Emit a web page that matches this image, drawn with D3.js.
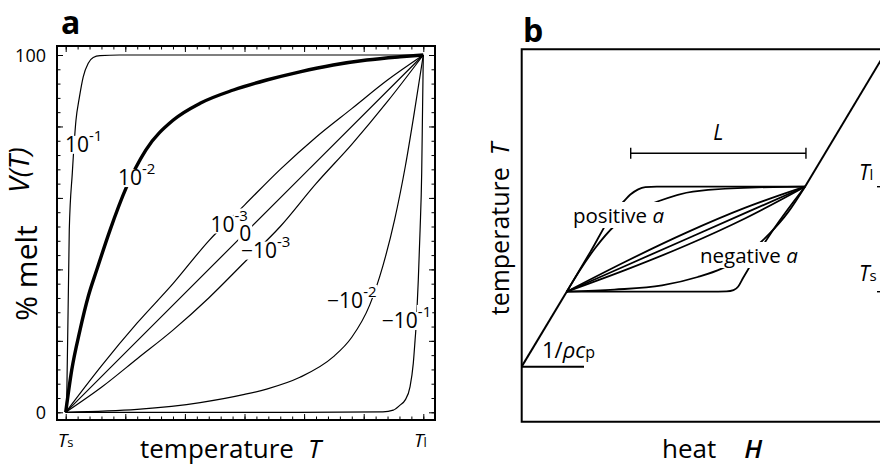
<!DOCTYPE html>
<html><head><meta charset="utf-8">
<script src="https://cdn.jsdelivr.net/npm/d3@7"></script>
<style>
body{margin:0;background:#fff}
svg{display:block}
text{font-family:"Open Sans","Noto Sans",sans-serif;fill:#000}
</style>
</head><body>
<svg id="chart" width="880" height="465"></svg>
<script>
// ---------- Panel a data: melt fraction V(T) (t = scaled temperature 0..1, v = % melt) ----------
const curveNames = ["10^-1","10^-2","10^-3","0","-10^-3","-10^-2","-10^-1"];
const meltPos1 = [[0,0],[0.003,4.4],[0.010,51],[0.0185,67],[0.0288,81.8],[0.038,88],[0.049,93.9],[0.063,97.7],[0.077,99.3],[0.096,99.8],[0.15,100],[1,100]];
const meltPos2 = [[0,0],[0.0168,11.8],[0.040,23],[0.063,32.4],[0.0867,39.8],[0.124,51],[0.169,62.8],[0.224,73.4],[0.301,81.8],[0.376,86.5],[0.469,90.2],[0.562,93],[0.655,95.3],[0.748,97.2],[0.842,98.6],[0.935,99.5],[1,100]];
const meltPos3 = [[0,0],[0.1,13],[0.2,25],[0.3,36],[0.4,48],[0.5,58],[0.6,68],[0.7,77],[0.8,85],[0.9,93],[1,100]];
const meltZero = [[0,0],[0.5,50],[1,100]];
const meltNeg3 = [[0,0],[0.1,7],[0.2,15],[0.3,23],[0.4,32],[0.5,42],[0.6,52],[0.7,64],[0.8,75],[0.9,87],[1,100]];
const meltNeg2 = [[0,0],[0.2,0.8],[0.376,2.7],[0.5,5],[0.562,6.5],[0.655,9.8],[0.748,15.5],[0.8,21],[0.85,30],[0.887,41],[0.92,54],[0.95,69],[0.975,84],[1,100]];
const meltNeg1 = [[0,0],[0.65,0],[0.887,0.1],[0.916,0.6],[0.935,2],[0.949,3.4],[0.963,7.2],[0.972,13.7],[0.977,20.2],[0.981,25.8],[0.986,37],[0.991,51],[0.9955,67],[0.998,85.5],[1,100]];
const meltCurves = [meltPos1, meltPos2, meltPos3, meltZero, meltNeg3, meltNeg2, meltNeg1];
const yTickLabels = ["0","100"];
const xTickLabels = ["Ts","Tl"];

// ---------- Panel b data: heat H (0 at solidus, 1 at liquidus end) vs temperature T (0 = Ts, 1 = Tl) ----------
const sensibleBelow = [[-0.189,-0.714],[0,0]];
const sensibleAbove = [[1,1],[1.37,2.4]];
const slopeFoot = [[-0.189,-0.714],[0.0726,-0.714]];
const latentBar = [0.2686, 1.004];
const latentBarT = 1.318;
const fan1 = [[0,0],[0.1,0.382],[0.198,0.757],[0.235,0.85],[0.27,0.93],[0.3,0.975],[0.33,0.995],[0.378,1],[1,1]];
const fan2 = [[0,0],[0.056,0.207],[0.119,0.414],[0.203,0.633],[0.287,0.776],[0.362,0.843],[0.53,0.954],[0.866,0.997],[1,1]];
const fan3 = [[0,0],[0.25,0.29],[0.5,0.56],[0.75,0.8],[1,1]];
const fan4 = [[0,0],[0.5,0.5],[1,1]];
const fan5 = [[0,0],[0.25,0.21],[0.5,0.44],[0.75,0.7],[1,1]];
const fan6 = [[0,0],[0.2,0.02],[0.4,0.06],[0.55,0.14],[0.65,0.22],[0.75,0.35],[0.85,0.55],[0.93,0.76],[1,1]];
const fan7 = [[0,0],[0.6,0],[0.671,0.003],[0.7,0.015],[0.72,0.05],[0.74,0.13],[0.811,0.397],[0.866,0.588],[1,1]];
const fanCurves = [fan1, fan2, fan3, fan4, fan5, fan6, fan7];

const svg = d3.select("#chart");

// ================= Panel a =================
const xA = d3.scaleLinear().domain([0,1]).range([65.7,423.3]);
const yA = d3.scaleLinear().domain([0,100]).range([412.3,55]);
const fA = {x0:57, x1:435, y0:46, y1:420};
const gA = svg.append("g");

const lineA = d3.line().x(d=>xA(d[0])).y(d=>yA(d[1])).curve(d3.curveMonotoneX);
gA.selectAll("path.melt").data(meltCurves).join("path")
  .attr("class","melt").attr("d",lineA).attr("fill","none").attr("stroke","#000")
  .attr("stroke-width",(d,i)=>i===1?3.4:1.2).attr("stroke-linejoin","round");

// ticks (inward on all sides)
const minorX = d3.range(0,31).map(i=>i/30), majorX = d3.range(0,7).map(i=>i/6);
const minorY = d3.range(0,26).map(i=>i*4), majorY = d3.range(0,6).map(i=>i*20);
function addAxis(gen, scale, vals, size, tr){
  const g = gA.append("g").attr("transform",tr)
    .call(gen(scale).tickValues(vals).tickSize(size).tickFormat(""));
  g.select(".domain").remove();
  g.selectAll(".tick line").attr("stroke","#000").attr("stroke-width",1);
}
addAxis(d3.axisBottom, xA, minorX, -3.5, `translate(0,${fA.y1})`);
addAxis(d3.axisBottom, xA, majorX, -6, `translate(0,${fA.y1})`);
addAxis(d3.axisTop, xA, minorX, -3.5, `translate(0,${fA.y0})`);
addAxis(d3.axisTop, xA, majorX, -6, `translate(0,${fA.y0})`);
addAxis(d3.axisLeft, yA, minorY, -3.5, `translate(${fA.x0},0)`);
addAxis(d3.axisLeft, yA, majorY, -6, `translate(${fA.x0},0)`);
addAxis(d3.axisRight, yA, minorY, -3.5, `translate(${fA.x1},0)`);
addAxis(d3.axisRight, yA, majorY, -6, `translate(${fA.x1},0)`);

gA.append("rect").attr("x",fA.x0).attr("y",fA.y0).attr("width",fA.x1-fA.x0).attr("height",fA.y1-fA.y0)
  .attr("fill","none").attr("stroke","#000").attr("stroke-width",2);

// y tick labels
gA.selectAll("text.ytl").data([0,100]).join("text").attr("class","ytl")
  .attr("x",46).attr("y",d=>yA(d)+6.5).attr("text-anchor","end").attr("font-size",18)
  .text((d,i)=>yTickLabels[i]);
// x tick labels Ts, Tl
[[0,0],[1,1]].forEach(([v,i])=>{
  const t = gA.append("text").attr("x",xA(v)+(i?-3:0)).attr("y",447).attr("text-anchor","middle");
  t.append("tspan").attr("font-style","italic").attr("font-size",19).text("T");
  t.append("tspan").attr("font-size",13).text(xTickLabels[i].slice(1));
});

// curve labels (white background breaking the lines)
const labelPos = [[-0.002,72.9],[0.146,63.6],[0.405,50.6],[0.485,48.0],[0.49,43.3],[0.731,29.2],[0.884,23.6]];
const bgLayer = gA.append("g"), txtLayer = gA.append("g");
curveNames.forEach((name,i)=>{
  const neg = name.startsWith("-");
  const isZero = name==="0";
  const x0 = xA(labelPos[i][0]), y0 = yA(labelPos[i][1]);
  const main = isZero ? "0" : (neg ? "\u221210" : "10");
  const sup = isZero ? "" : name.split("^")[1];
  const tm = txtLayer.append("text").attr("x",x0).attr("y",y0).attr("font-size",21).text(main);
  const w = tm.node().getComputedTextLength();
  bgLayer.append("rect").attr("x",x0-1).attr("y",y0-16).attr("width",w+2).attr("height",18).attr("fill","#fff");
  if(sup){
    const ts = txtLayer.append("text").attr("x",x0+w).attr("y",y0-11).attr("font-size",15).text(sup);
    const ws = ts.node().getComputedTextLength();
    bgLayer.append("rect").attr("x",x0+w-1).attr("y",y0-23).attr("width",ws+2).attr("height",13).attr("fill","#fff");
  }
});

// axis titles
gA.append("text").attr("transform","translate(37,273) rotate(-90)").attr("text-anchor","middle")
  .attr("font-size",30).text("% melt");
gA.append("text").attr("transform","translate(29,170) rotate(-90)").attr("text-anchor","middle")
  .attr("font-size",28).attr("font-style","italic").text("V(T)");
const xt = gA.append("text").attr("x",140).attr("y",458).attr("font-size",26);
xt.append("tspan").text("temperature");
xt.append("tspan").attr("dx",14).attr("font-style","italic").text("T");
gA.append("text").attr("x",61).attr("y",34).attr("font-size",32).attr("font-weight",700).text("a");

// ================= Panel b =================
const xB = d3.scaleLinear().domain([0,1]).range([566.7,805]);
const yB = d3.scaleLinear().domain([0,1]).range([291.7,186.7]);
const fB = {x0:521.7, y0:49.3, y1:421.7};
const gB = svg.append("g");
gB.append("defs").append("clipPath").attr("id","clipB").append("rect")
  .attr("x",fB.x0).attr("y",fB.y0).attr("width",880-fB.x0).attr("height",fB.y1-fB.y0);
const plotB = gB.append("g").attr("clip-path","url(#clipB)");
const lineB = d3.line().x(d=>xB(d[0])).y(d=>yB(d[1]));
const curveB = d3.line().x(d=>xB(d[0])).y(d=>yB(d[1])).curve(d3.curveMonotoneX);

plotB.selectAll("path.fan").data(fanCurves).join("path").attr("class","fan")
  .attr("d",curveB).attr("fill","none").attr("stroke","#000").attr("stroke-width",1.8);
[sensibleBelow, sensibleAbove, slopeFoot].forEach(d=>{
  plotB.append("path").attr("d",lineB(d)).attr("fill","none").attr("stroke","#000").attr("stroke-width",2);
});
// latent heat bar
gB.append("line").attr("x1",xB(latentBar[0])).attr("x2",xB(latentBar[1]))
  .attr("y1",yB(latentBarT)).attr("y2",yB(latentBarT)).attr("stroke","#000").attr("stroke-width",1.4);
latentBar.forEach(h=>gB.append("line").attr("x1",xB(h)).attr("x2",xB(h))
  .attr("y1",yB(latentBarT)-5.5).attr("y2",yB(latentBarT)+5.5).attr("stroke","#000").attr("stroke-width",1.4));
gB.append("text").attr("x",(xB(latentBar[0])+xB(latentBar[1]))/2).attr("y",140).attr("text-anchor","middle")
  .attr("font-size",21).attr("font-style","italic").text("L");

// labels with white background
function bLabel(x,y,word){
  const g = gB.append("g").attr("transform",`translate(${x},${y})`);
  const t = g.append("text").attr("font-size",20.5);
  t.append("tspan").text(word+" ");
  t.append("tspan").attr("font-style","italic").text("a");
  const bb = t.node().getBBox();
  g.insert("rect","text").attr("x",bb.x-3).attr("y",bb.y+1).attr("width",bb.width+6).attr("height",bb.height-2).attr("fill","#fff");
}
bLabel(573,223,"positive");
bLabel(700,263,"negative");

const rc = gB.append("text").attr("x",542).attr("y",358).attr("font-size",22);
rc.append("tspan").text("1/");
rc.append("tspan").attr("font-style","italic").text("\u03C1c");
rc.append("tspan").attr("font-size",16).text("p");

// frame (left, top, bottom)
gB.append("path").attr("d",`M880,${fB.y0}H${fB.x0}V${fB.y1}H880`).attr("fill","none").attr("stroke","#000").attr("stroke-width",2);

// right side Tl / Ts
[[1,"Tl",180],[0,"Ts",281]].forEach(([tv,lab,by])=>{
  gB.append("line").attr("x1",877).attr("x2",885).attr("y1",yB(tv)).attr("y2",yB(tv)).attr("stroke","#000").attr("stroke-width",1.4);
  const t = gB.append("text").attr("x",859).attr("y",by);
  t.append("tspan").attr("font-size",21).attr("font-style","italic").text("T");
  t.append("tspan").attr("font-size",15).text(lab.slice(1));
});

// axis titles
const yt = gB.append("text").attr("transform","translate(509,229) rotate(-90)").attr("text-anchor","middle").attr("font-size",25);
yt.append("tspan").text("temperature");
yt.append("tspan").attr("dx",12).attr("font-style","italic").text("T");
const ht = gB.append("text").attr("x",662).attr("y",458).attr("font-size",26);
ht.append("tspan").text("heat");
ht.append("tspan").attr("dx",28).attr("font-style","italic").attr("font-weight",600).text("H");
gB.append("text").attr("x",523).attr("y",42).attr("font-size",32).attr("font-weight",700).text("b");
</script>
</body></html>
